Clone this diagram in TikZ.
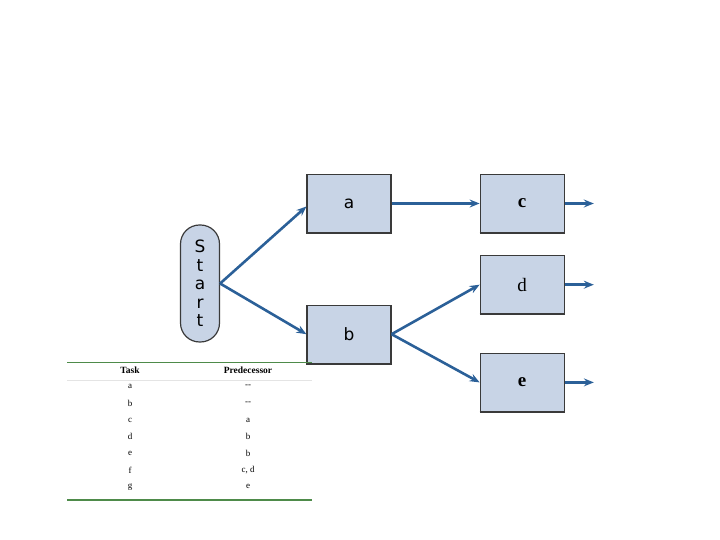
\documentclass[tikz,border=0pt]{standalone}
\usepackage{fontspec}
\setmainfont{Liberation Serif}
\newfontfamily\boxsans{DejaVu Sans}
\usepackage{xcolor}
\usepackage{tikz}
\usetikzlibrary{positioning,arrows.meta}
\definecolor{taskfill}{HTML}{C8D4E6}
\definecolor{taskedge}{HTML}{3A3A3A}
\definecolor{flowblue}{HTML}{2B6098}
\definecolor{rulegreen}{HTML}{4E8B4A}
\definecolor{rulegray}{HTML}{E4E4E4}

\begin{document}
\begin{tikzpicture}[
  x=1pt,y=1pt,
  task/.style={draw=taskedge,fill=taskfill,line width=1.2pt,
               minimum width=84pt,minimum height=58pt,inner sep=0pt},
  sanstask/.style={task,font=\boxsans\fontsize{17}{20}\selectfont},
  seriftask/.style={task,font=\fontsize{19}{22}\selectfont},
  pill/.style={draw=taskedge,fill=taskfill,line width=1.2pt,rounded corners=19pt,
               minimum width=39pt,minimum height=117pt,inner sep=0pt,align=center,
               font=\boxsans\fontsize{17}{18.5}\selectfont},
  flow/.style={-{Stealth[length=10pt,width=8pt,inset=3.5pt]},flowblue,line width=2.6pt},
  cell/.style={font=\fontsize{9}{10}\selectfont,inner sep=0pt},
  head/.style={font=\bfseries\fontsize{9.5}{10}\selectfont,inner sep=0pt}
]
\useasboundingbox (0,0) rectangle (720,540);

% the start pill and the first column of tasks
\node[pill] (start) at (200,256.5) {S\\t\\a\\r\\t};
\node[sanstask] (a) at (349,336.5) {a};
\node[sanstask,below=71.5pt of a] (b) {b};

% second column of tasks
\node[seriftask,right=88pt of a] (c) {\bfseries c};
\node[seriftask,below=22pt of c] (d) {d};
\node[seriftask,below=38.5pt of d] (e) {\bfseries e};

% heavier bottom edge on each box
\foreach \n in {a,b,c,d,e}
  \draw[taskedge,line width=2pt] (\n.south west) -- (\n.south east);

% loose ends leaving the last column
\coordinate[right=29pt of c] (cout);
\coordinate[right=29pt of d] (dout);
\coordinate[right=29pt of e] (eout);

\draw[flow] (start.east) -- ([yshift=-3pt]a.west);
\draw[flow] (start.east) -- (b.west);
\draw[flow] (a) -- (c);
\draw[flow] (b.east) -- (d.west);
\draw[flow] (b.east) -- (e.west);
\draw[flow] (c) -- (cout);
\draw[flow] (d) -- (dout);
\draw[flow] (e) -- (eout);

% predecessor table
\draw[rulegreen,line width=0.8pt] (67,178) -- (312,178);
\draw[rulegray,line width=0.5pt] (67,160) -- (312,160);
\draw[rulegreen,line width=1.6pt] (67,40) -- (312,40);
\node[head] (taskhead) at (130,170) {Task};
\node[head] (predhead) at (248,170) {Predecessor};
\foreach \t/\p [count=\i] in {a/{-{}-},b/{-{}-},c/a,d/b,e/b,f/{c, d},g/e}{
  \node[cell] (task-\i) at (130,{170-16.7*\i}) {\t};
  \node[cell] (pred-\i) at (248,{170-16.7*\i}) {\p};
}
\end{tikzpicture}
\end{document}
